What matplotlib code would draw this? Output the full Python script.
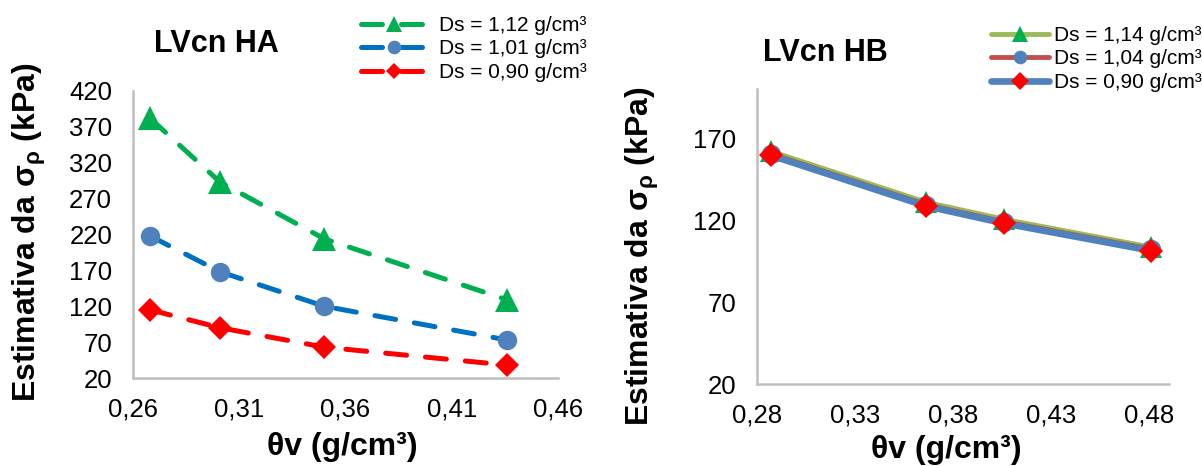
import matplotlib
matplotlib.use("Agg")
import matplotlib.pyplot as plt
from matplotlib.ticker import FixedLocator, FixedFormatter

plt.rcParams['font.family'] = ['Liberation Sans', 'DejaVu Sans']
plt.rcParams['mathtext.fontset'] = 'custom'
plt.rcParams['mathtext.rm'] = 'Liberation Sans'
plt.rcParams['mathtext.it'] = 'Liberation Sans'
plt.rcParams['mathtext.bf'] = 'Liberation Sans:bold'

# ---------------- data: LVcn HA ----------------
ha_theta = [0.268, 0.301, 0.350, 0.436]
ha_ds112 = [382, 293, 214, 129]
ha_ds101 = [218, 168, 120, 73]
ha_ds090 = [115, 90, 63, 38]
ha_labels = ["Ds = 1,12 g/cm³", "Ds = 1,01 g/cm³", "Ds = 0,90 g/cm³"]
ha_xticks = [0.26, 0.31, 0.36, 0.41, 0.46]
ha_xticklabels = ["0,26", "0,31", "0,36", "0,41", "0,46"]
ha_yticks = [20, 70, 120, 170, 220, 270, 320, 370, 420]
ha_yticklabels = ["20", "70", "120", "170", "220", "270", "320", "370", "420"]

# ---------------- data: LVcn HB ----------------
hb_theta = [0.287, 0.366, 0.406, 0.481]
hb_ds114 = [162.0, 131.0, 120.5, 103.5]
hb_ds104 = [160.5, 129.5, 119.0, 102.3]
hb_ds090 = [159.5, 128.6, 118.0, 101.3]
hb_labels = ["Ds = 1,14 g/cm³", "Ds = 1,04 g/cm³", "Ds = 0,90 g/cm³"]
hb_xticks = [0.28, 0.33, 0.38, 0.43, 0.48]
hb_xticklabels = ["0,28", "0,33", "0,38", "0,43", "0,48"]
hb_yticks = [20, 70, 120, 170]
hb_yticklabels = ["20", "70", "120", "170"]

W, H = 1202, 466
fig = plt.figure(figsize=(W / 100, H / 100), dpi=100)

spine_col = '#BFBFBF'
tick_fs = 18.5
lab_fs = 23
ylab = r'Estimativa da σ$_{\mathbf{\rho}}$ (kPa)'
xlab = 'θv (g/cm³)'


def style_axes(ax):
    for s in ['top', 'right']:
        ax.spines[s].set_visible(False)
    for s in ['left', 'bottom']:
        ax.spines[s].set_color(spine_col)
        ax.spines[s].set_linewidth(1.8)
    ax.tick_params(length=0, labelsize=tick_fs, colors='black')
    ax.tick_params(axis='y', pad=15)
    ax.tick_params(axis='x', pad=14)


# ---------------- left panel ----------------
axL = fig.add_axes([133 / W, 1 - 378 / H, (558 - 133) / W, (378 - 91) / H])
dash = (0, (4.2, 3.8))
lw = 3.6
kw = dict(linewidth=lw, linestyle=dash, dash_capstyle='round', markeredgewidth=0, clip_on=False)
l1, = axL.plot(ha_theta, ha_ds112, color='#00B050', marker='^', markersize=17,
               markerfacecolor='#00B050', label=ha_labels[0], **kw)
l2, = axL.plot(ha_theta, ha_ds101, color='#0070C0', marker='o', markersize=14,
               markerfacecolor='#4F81BD', label=ha_labels[1], **kw)
l3, = axL.plot(ha_theta, ha_ds090, color='#FF0000', marker='D', markersize=12,
               markerfacecolor='#FF0000', label=ha_labels[2], **kw)
axL.set_xlim(0.26, 0.46)
axL.set_ylim(20, 420)
axL.xaxis.set_major_locator(FixedLocator(ha_xticks))
axL.xaxis.set_major_formatter(FixedFormatter(ha_xticklabels))
axL.yaxis.set_major_locator(FixedLocator(ha_yticks))
axL.yaxis.set_major_formatter(FixedFormatter(ha_yticklabels))
style_axes(axL)
axL.legend(handles=[l1, l2, l3], loc='center left', bbox_to_anchor=(361 / W, 1 - 49 / H),
           bbox_transform=fig.transFigure, frameon=False, fontsize=15,
           borderpad=0, borderaxespad=0, handlelength=3.2, handletextpad=0.55,
           labelspacing=0.22, markerscale=0.7)

fig.text(216 / W, 1 - 44 / H, 'LVcn HA', ha='center', va='center', fontsize=22, fontweight='bold')
fig.text(29 / W, 1 - 232 / H, ylab, rotation=90, ha='center', va='center',
         fontsize=lab_fs, fontweight='bold')
fig.text(342 / W, 1 - 447 / H, xlab, ha='center', va='center', fontsize=lab_fs, fontweight='bold')

# ---------------- right panel ----------------
axR = fig.add_axes([757 / W, 1 - 384 / H, (1169 - 757) / W, (384 - 89) / H])
kw2 = dict(linestyle='-', solid_capstyle='round', markeredgewidth=0, clip_on=False)
r1, = axR.plot(hb_theta, hb_ds114, color='#9BBB59', linewidth=3.5, marker='^', markersize=16,
               markerfacecolor='#00B050', label=hb_labels[0], **kw2)
r2, = axR.plot(hb_theta, hb_ds104, color='#C0504D', linewidth=3.5, marker='o', markersize=14,
               markerfacecolor='#4F81BD', label=hb_labels[1], **kw2)
r3, = axR.plot(hb_theta, hb_ds090, color='#4F81BD', linewidth=4.8, marker='D', markersize=12.5,
               markerfacecolor='#FF0000', label=hb_labels[2], **kw2)
axR.set_xlim(0.28, 0.49)
axR.set_ylim(20, 200)
axR.xaxis.set_major_locator(FixedLocator(hb_xticks))
axR.xaxis.set_major_formatter(FixedFormatter(hb_xticklabels))
axR.yaxis.set_major_locator(FixedLocator(hb_yticks))
axR.yaxis.set_major_formatter(FixedFormatter(hb_yticklabels))
style_axes(axR)
axR.legend(handles=[r1, r2, r3], loc='center left', bbox_to_anchor=(991 / W, 1 - 59 / H),
           bbox_transform=fig.transFigure, frameon=False, fontsize=15,
           borderpad=0, borderaxespad=0, handlelength=2.8, handletextpad=0.2,
           labelspacing=0.22, markerscale=0.7)

fig.text(825 / W, 1 - 53 / H, 'LVcn HB', ha='center', va='center', fontsize=22, fontweight='bold')
fig.text(642 / W, 1 - 256 / H, ylab, rotation=90, ha='center', va='center',
         fontsize=lab_fs, fontweight='bold')
fig.text(946 / W, 1 - 450 / H, xlab, ha='center', va='center', fontsize=lab_fs, fontweight='bold')

fig.savefig('out.png', dpi=100)
